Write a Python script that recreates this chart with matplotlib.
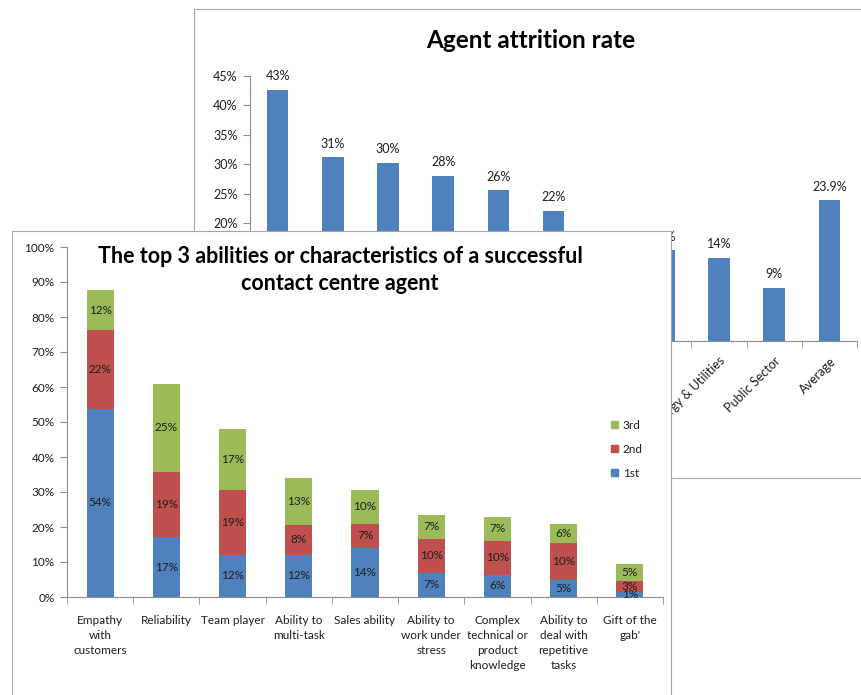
import matplotlib
matplotlib.use('Agg')
import matplotlib.pyplot as plt
from matplotlib.patches import Patch
from matplotlib.transforms import ScaledTranslation
import numpy as np

plt.rcParams['font.family'] = ['Lato', 'DejaVu Sans']

# back chart: agent attrition rate by sector (only the right-hand labels are visible)
sectors = ["Outsourcing", "Retail", "Travel & Leisure", "Telecoms", "Finance",
           "Insurance", "Housing", "Services", "Energy & Utilities",
           "Public Sector", "Average"]
attrition = [42.6, 31.2, 30.2, 28.0, 25.6, 22.1, 14.8, 15.4, 14.1, 9.0, 23.9]
attrition_dec = [0, 0, 0, 0, 0, 0, 0, 0, 0, 0, 1]

# front chart: top 3 abilities
abilities = ["Empathy\nwith\ncustomers", "Reliability", "Team player",
             "Ability to\nmulti-task", "Sales ability", "Ability to\nwork under\nstress",
             "Complex\ntechnical or\nproduct\nknowledge", "Ability to\ndeal with\nrepetitive\ntasks",
             "Gift of the\ngab'"]
first = [53.8, 17.1, 12.1, 12.1, 14.1, 7.0, 6.4, 5.0, 1.4]
second = [22.4, 18.6, 18.6, 8.4, 6.9, 9.7, 9.7, 10.3, 3.2]
third = [11.6, 25.2, 17.2, 13.4, 9.6, 6.8, 6.9, 5.7, 4.9]

BLUE = '#4F81BD'
RED = '#C0504D'
GREEN = '#9BBB59'
AXIS = '#8c8c8c'
FRAME = '#a6a6a6'
TXT = '#1e1e1e'

W, H = 861, 695
fig = plt.figure(figsize=(W / 100, H / 100), dpi=100)


def rect(x0, y0, x1, y1):
    # pixel box (top-left origin) -> figure fraction
    return [x0 / W, 1 - y1 / H, (x1 - x0) / W, (y1 - y0) / H]


# ---- back panel frame
bf = fig.add_axes(rect(194, 9, 880, 478))
bf.set_xticks([])
bf.set_yticks([])
for s in bf.spines.values():
    s.set_color(FRAME)

# ---- back chart
ax1 = fig.add_axes(rect(250, 76, 857, 341))
x1 = np.arange(len(sectors))
ax1.bar(x1, attrition, width=0.39, color=BLUE, zorder=3)
for xi, v, d in zip(x1, attrition, attrition_dec):
    ax1.text(xi, v + 1.3, f"{v:.{d}f}%", ha='center', va='bottom', fontsize=9, color=TXT)
ax1.set_xlim(-0.5, len(sectors) - 0.5)
ax1.set_ylim(0, 45)
ax1.set_yticks(np.arange(0, 46, 5))
ax1.set_yticklabels([f"{t}%" for t in range(0, 46, 5)], fontsize=9, color=TXT)
ax1.set_xticks(x1)
ax1.set_xticklabels(sectors, rotation=45, ha='right', rotation_mode='anchor',
                    fontsize=9, color=TXT)
shift = ScaledTranslation(-7 / 100, -3 / 100, fig.dpi_scale_trans)
for lab in ax1.get_xticklabels():
    lab.set_transform(lab.get_transform() + shift)
ax1.set_xticks(np.arange(-0.5, len(sectors), 1), minor=True)
ax1.tick_params(axis='x', which='major', length=0, pad=10)
ax1.tick_params(axis='x', which='minor', length=5, color=AXIS)
ax1.tick_params(axis='y', length=5, color=AXIS, pad=4)
ax1.patch.set_visible(False)
for s in ['top', 'right']:
    ax1.spines[s].set_visible(False)
for s in ['left', 'bottom']:
    ax1.spines[s].set_color(AXIS)
fig.text(531 / W, 1 - 40 / H, "Agent attrition rate", ha='center', va='center',
         fontsize=17.5, fontweight='bold', color='black')

# ---- front panel frame (covers the back chart)
ff = fig.add_axes(rect(12, 231, 671, 710))
ff.set_facecolor('white')
ff.set_xticks([])
ff.set_yticks([])
for s in ff.spines.values():
    s.set_color(FRAME)

# ---- front chart
ax2 = fig.add_axes(rect(67, 247, 663, 597))
x2 = np.arange(len(abilities))
ax2.bar(x2, first, width=0.41, color=BLUE, zorder=3, label='1st')
ax2.bar(x2, second, width=0.41, bottom=first, color=RED, zorder=3, label='2nd')
bot3 = np.array(first) + np.array(second)
ax2.bar(x2, third, width=0.41, bottom=bot3, color=GREEN, zorder=3, label='3rd')
for vals, bots in [(first, np.zeros(len(first))), (second, np.array(first)), (third, bot3)]:
    for xi, v, b in zip(x2, vals, bots):
        ax2.text(xi, b + v / 2, f"{v:.0f}%", ha='center', va='center', fontsize=8.5,
                 color=TXT, zorder=4)
ax2.set_xlim(-0.5, len(abilities) - 0.5)
ax2.set_ylim(0, 100)
ax2.set_yticks(np.arange(0, 101, 10))
ax2.set_yticklabels([f"{t}%" for t in range(0, 101, 10)], fontsize=8.5, color=TXT)
ax2.set_xticks(x2)
ax2.set_xticklabels(abilities, fontsize=8.5, color=TXT, linespacing=1.45)
ax2.set_xticks(np.arange(-0.5, len(abilities), 1), minor=True)
ax2.tick_params(axis='x', which='major', length=0, pad=13)
ax2.tick_params(axis='x', which='minor', length=5, color=AXIS)
ax2.tick_params(axis='y', length=5, color=AXIS, pad=4)
ax2.patch.set_visible(False)
for s in ['top', 'right']:
    ax2.spines[s].set_visible(False)
for s in ['left', 'bottom']:
    ax2.spines[s].set_color(AXIS)

fig.text(340 / W, 1 - 270 / H,
         "The top 3 abilities or characteristics of a successful\ncontact centre agent",
         ha='center', va='center', fontsize=15.5, fontweight='bold', color='black',
         linespacing=1.35)

handles = [Patch(color=GREEN, label='3rd'), Patch(color=RED, label='2nd'),
           Patch(color=BLUE, label='1st')]
ax2.legend(handles=handles, loc='upper left', bbox_to_anchor=(605 / W, 1 - 414 / H),
           bbox_transform=fig.transFigure, frameon=False, fontsize=8.5,
           handlelength=0.6, handleheight=0.6, handletextpad=0.4, labelspacing=1.1,
           borderpad=0, labelcolor=TXT)

fig.savefig('out.png', dpi=100, facecolor='white')
